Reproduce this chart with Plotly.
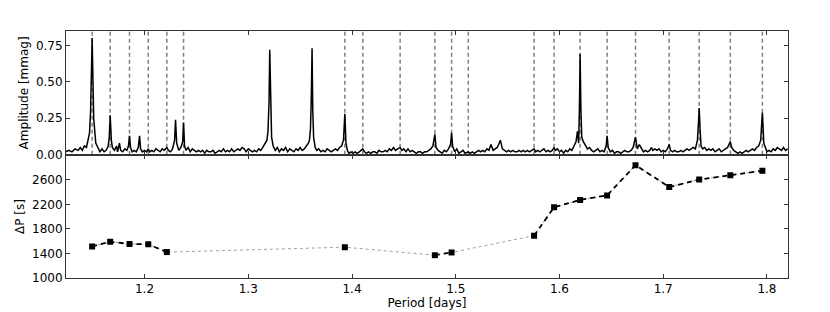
import plotly.graph_objects as go

# ---- Data ----
# Mode periods (dashed vertical lines in the upper panel), in days
mode_periods = [1.1495, 1.1669, 1.1855, 1.2036, 1.2215, 1.2376, 1.3931, 1.4104,
                1.4464, 1.4799, 1.4960, 1.5121, 1.5755, 1.5948, 1.6199, 1.6459,
                1.6733, 1.7058, 1.7347, 1.7647, 1.7956]

# Period spacing (lower panel)
dp_period = [1.1495, 1.1669, 1.1855, 1.2036, 1.2215, 1.3931, 1.4799, 1.4960,
             1.5755, 1.5948, 1.6199, 1.6459, 1.6733, 1.7058, 1.7347, 1.7647, 1.7956]
dp_value = [1515, 1590, 1555, 1548, 1422, 1502, 1372, 1416,
            1690, 2152, 2272, 2346, 2838, 2482, 2604, 2676, 2748]
dp_error = [22, 15, 15, 15, 15, 15, 15, 15, 30, 20, 15, 15, 15, 15, 15, 15, 30]
# consecutive-mode groups drawn with a dashed black line
dp_groups = [[0, 1, 2, 3, 4], [6, 7], [8, 9, 10, 11, 12, 13, 14, 15, 16]]

# Amplitude spectrum (period [d], amplitude [mmag])
spectrum_points = [
    (1.124, 0.02), (1.127, 0.03), (1.130, 0.02), (1.133, 0.04), (1.136, 0.03), (1.138, 0.05),
    (1.140, 0.03), (1.142, 0.06), (1.144, 0.05), (1.145, 0.09), (1.146, 0.12), (1.147, 0.15),
    (1.148, 0.30), (1.1495, 0.80), (1.151, 0.25), (1.152, 0.13), (1.153, 0.08), (1.155, 0.05),
    (1.157, 0.02), (1.159, 0.04), (1.161, 0.02), (1.163, 0.03), (1.165, 0.06), (1.166, 0.12),
    (1.1669, 0.27), (1.168, 0.10), (1.169, 0.05), (1.171, 0.03), (1.173, 0.06), (1.174, 0.02),
    (1.1758, 0.08), (1.177, 0.03), (1.179, 0.02), (1.181, 0.04), (1.183, 0.03), (1.1845, 0.06),
    (1.1855, 0.13), (1.1865, 0.05), (1.188, 0.02), (1.190, 0.03), (1.192, 0.02), (1.194, 0.05),
    (1.1952, 0.13), (1.1962, 0.04), (1.198, 0.02), (1.200, 0.03), (1.202, 0.02), (1.2036, 0.04),
    (1.205, 0.02), (1.207, 0.03), (1.209, 0.02), (1.211, 0.04), (1.213, 0.03), (1.215, 0.02),
    (1.217, 0.04), (1.219, 0.03), (1.2215, 0.05), (1.223, 0.03), (1.225, 0.02), (1.227, 0.04),
    (1.229, 0.10), (1.2299, 0.24), (1.231, 0.08), (1.233, 0.03), (1.235, 0.05), (1.2368, 0.09),
    (1.2376, 0.22), (1.2386, 0.06), (1.240, 0.03), (1.242, 0.05), (1.244, 0.02), (1.246, 0.04),
    (1.248, 0.03), (1.250, 0.02), (1.252, 0.03), (1.254, 0.02), (1.256, 0.03), (1.258, 0.01),
    (1.260, 0.03), (1.262, 0.02), (1.264, 0.02), (1.266, 0.03), (1.268, 0.01), (1.270, 0.02),
    (1.272, 0.03), (1.274, 0.02), (1.276, 0.04), (1.278, 0.02), (1.280, 0.03), (1.282, 0.02),
    (1.284, 0.04), (1.286, 0.02), (1.288, 0.03), (1.290, 0.04), (1.292, 0.03), (1.294, 0.05),
    (1.296, 0.04), (1.298, 0.02), (1.300, 0.04), (1.302, 0.03), (1.304, 0.02), (1.306, 0.03),
    (1.308, 0.02), (1.310, 0.04), (1.312, 0.03), (1.314, 0.05), (1.316, 0.08), (1.318, 0.10),
    (1.319, 0.16), (1.3200, 0.35), (1.3207, 0.72), (1.3215, 0.30), (1.3225, 0.12), (1.324, 0.06),
    (1.326, 0.03), (1.328, 0.05), (1.330, 0.02), (1.332, 0.04), (1.334, 0.03), (1.336, 0.05),
    (1.338, 0.02), (1.340, 0.04), (1.342, 0.03), (1.344, 0.02), (1.346, 0.04), (1.348, 0.03),
    (1.350, 0.05), (1.352, 0.03), (1.354, 0.04), (1.356, 0.06), (1.358, 0.08), (1.359, 0.10),
    (1.360, 0.18), (1.3608, 0.40), (1.3615, 0.73), (1.3622, 0.30), (1.363, 0.12), (1.3645, 0.05),
    (1.366, 0.03), (1.368, 0.04), (1.370, 0.02), (1.372, 0.03), (1.374, 0.02), (1.376, 0.04),
    (1.378, 0.03), (1.380, 0.02), (1.382, 0.03), (1.384, 0.04), (1.386, 0.03), (1.388, 0.05),
    (1.390, 0.06), (1.3918, 0.10), (1.3931, 0.28), (1.3942, 0.08), (1.3955, 0.03), (1.397, 0.01),
    (1.399, 0.02), (1.401, 0.01), (1.403, 0.02), (1.405, 0.01), (1.407, 0.02), (1.409, 0.03),
    (1.4104, 0.04), (1.412, 0.02), (1.414, 0.01), (1.416, 0.02), (1.418, 0.01), (1.420, 0.02),
    (1.422, 0.02), (1.424, 0.01), (1.426, 0.03), (1.428, 0.02), (1.430, 0.02), (1.432, 0.03),
    (1.434, 0.02), (1.436, 0.04), (1.438, 0.03), (1.440, 0.05), (1.442, 0.03), (1.444, 0.04),
    (1.4464, 0.05), (1.448, 0.03), (1.450, 0.04), (1.452, 0.02), (1.454, 0.04), (1.456, 0.02),
    (1.458, 0.03), (1.460, 0.02), (1.462, 0.01), (1.464, 0.02), (1.466, 0.02), (1.468, 0.01),
    (1.470, 0.02), (1.472, 0.02), (1.474, 0.03), (1.476, 0.04), (1.478, 0.06), (1.4799, 0.14),
    (1.481, 0.05), (1.483, 0.03), (1.485, 0.02), (1.487, 0.01), (1.489, 0.03), (1.491, 0.02),
    (1.493, 0.04), (1.495, 0.07), (1.4960, 0.15), (1.497, 0.06), (1.499, 0.02), (1.501, 0.04),
    (1.503, 0.01), (1.505, 0.02), (1.507, 0.03), (1.509, 0.01), (1.511, 0.02), (1.5121, 0.02),
    (1.514, 0.01), (1.516, 0.02), (1.518, 0.01), (1.520, 0.02), (1.522, 0.03), (1.524, 0.02),
    (1.526, 0.03), (1.528, 0.02), (1.530, 0.04), (1.532, 0.03), (1.534, 0.07), (1.536, 0.03),
    (1.538, 0.04), (1.540, 0.05), (1.542, 0.08), (1.543, 0.10), (1.545, 0.04), (1.547, 0.03),
    (1.549, 0.02), (1.551, 0.03), (1.553, 0.02), (1.555, 0.03), (1.557, 0.02), (1.559, 0.02),
    (1.561, 0.03), (1.563, 0.02), (1.565, 0.03), (1.567, 0.02), (1.569, 0.03), (1.571, 0.02),
    (1.573, 0.03), (1.5755, 0.04), (1.577, 0.02), (1.579, 0.03), (1.581, 0.02), (1.583, 0.03),
    (1.585, 0.04), (1.587, 0.02), (1.589, 0.03), (1.591, 0.02), (1.593, 0.03), (1.5948, 0.05),
    (1.596, 0.03), (1.598, 0.04), (1.600, 0.02), (1.602, 0.03), (1.604, 0.01), (1.606, 0.03),
    (1.608, 0.02), (1.610, 0.04), (1.612, 0.03), (1.614, 0.06), (1.616, 0.09), (1.6173, 0.16),
    (1.6185, 0.08), (1.6193, 0.35), (1.6199, 0.69), (1.6207, 0.30), (1.6215, 0.12), (1.623, 0.09),
    (1.625, 0.06), (1.627, 0.04), (1.629, 0.05), (1.631, 0.03), (1.633, 0.02), (1.635, 0.03),
    (1.637, 0.04), (1.639, 0.02), (1.641, 0.03), (1.643, 0.02), (1.645, 0.06), (1.6459, 0.13),
    (1.647, 0.05), (1.649, 0.02), (1.651, 0.03), (1.653, 0.01), (1.655, 0.02), (1.657, 0.02),
    (1.659, 0.01), (1.661, 0.02), (1.663, 0.03), (1.665, 0.02), (1.667, 0.02), (1.669, 0.03),
    (1.671, 0.05), (1.6733, 0.12), (1.675, 0.04), (1.677, 0.07), (1.679, 0.04), (1.681, 0.02),
    (1.683, 0.03), (1.685, 0.02), (1.687, 0.03), (1.6887, 0.05), (1.690, 0.03), (1.692, 0.04),
    (1.694, 0.03), (1.696, 0.04), (1.698, 0.02), (1.700, 0.03), (1.702, 0.02), (1.704, 0.04),
    (1.7058, 0.07), (1.707, 0.03), (1.709, 0.02), (1.711, 0.03), (1.713, 0.02), (1.715, 0.02),
    (1.717, 0.03), (1.719, 0.02), (1.721, 0.03), (1.723, 0.04), (1.725, 0.03), (1.727, 0.04),
    (1.729, 0.05), (1.731, 0.04), (1.733, 0.10), (1.734, 0.22), (1.7347, 0.32), (1.7355, 0.18),
    (1.7365, 0.06), (1.738, 0.04), (1.740, 0.05), (1.742, 0.03), (1.744, 0.04), (1.746, 0.03),
    (1.748, 0.04), (1.750, 0.02), (1.752, 0.03), (1.754, 0.04), (1.756, 0.02), (1.758, 0.03),
    (1.760, 0.04), (1.762, 0.05), (1.7647, 0.09), (1.766, 0.05), (1.768, 0.03), (1.770, 0.02),
    (1.772, 0.01), (1.774, 0.02), (1.776, 0.01), (1.778, 0.02), (1.780, 0.03), (1.782, 0.02),
    (1.784, 0.03), (1.786, 0.04), (1.788, 0.03), (1.790, 0.05), (1.792, 0.06), (1.794, 0.10),
    (1.7956, 0.29), (1.797, 0.08), (1.798, 0.06), (1.800, 0.02), (1.802, 0.03), (1.804, 0.02),
    (1.806, 0.04), (1.808, 0.03), (1.810, 0.05), (1.812, 0.04), (1.814, 0.03), (1.816, 0.05),
    (1.818, 0.03), (1.820, 0.04),
]
spec_period = [p for p, a in spectrum_points]
spec_amp = [a for p, a in spectrum_points]

amp_ticks = [0.0, 0.25, 0.50, 0.75]
amp_ticklabels = ["0.00", "0.25", "0.50", "0.75"]
dp_ticks = [1000, 1400, 1800, 2200, 2600]
period_ticks = [1.2, 1.3, 1.4, 1.5, 1.6, 1.7, 1.8]
period_ticklabels = ["1.2", "1.3", "1.4", "1.5", "1.6", "1.7", "1.8"]

X_RANGE = [1.1243, 1.8203]
AMP_RANGE = [0, 0.848]
DP_RANGE = [1000, 3000]

fig = go.Figure()

# dashed vertical lines at mode periods
vx, vy = [], []
for p in mode_periods:
    vx += [p, p, None]
    vy += [AMP_RANGE[0], AMP_RANGE[1], None]
fig.add_trace(go.Scatter(x=vx, y=vy, mode="lines", xaxis="x", yaxis="y",
                         line=dict(color="#7f7f7f", width=1.5, dash="4px,3px"),
                         hoverinfo="skip", showlegend=False))

# amplitude spectrum
fig.add_trace(go.Scatter(x=spec_period, y=spec_amp, mode="lines", xaxis="x", yaxis="y",
                         line=dict(color="black", width=1.5), showlegend=False))

# dotted grey line through all period-spacing points
fig.add_trace(go.Scatter(x=dp_period, y=dp_value, mode="lines", xaxis="x2", yaxis="y2",
                         line=dict(color="#a0a0a0", width=1, dash="dot"),
                         showlegend=False))

# dashed black segments for consecutive modes
gx, gy = [], []
for g in dp_groups:
    gx += [dp_period[i] for i in g] + [None]
    gy += [dp_value[i] for i in g] + [None]
fig.add_trace(go.Scatter(x=gx, y=gy, mode="lines", xaxis="x2", yaxis="y2",
                         line=dict(color="black", width=1.8, dash="5px,4px"),
                         showlegend=False))

# markers with error bars
fig.add_trace(go.Scatter(x=dp_period, y=dp_value, mode="markers", xaxis="x2", yaxis="y2",
                         marker=dict(symbol="square", size=6, color="black"),
                         error_y=dict(type="data", array=dp_error, color="black",
                                      thickness=1.2, width=2),
                         showlegend=False))

FS = 12
axis_common = dict(showline=True, linecolor="#333333", linewidth=1, mirror="ticks",
                   ticks="inside", ticklen=4, tickcolor="#333333", tickwidth=1,
                   showgrid=False, zeroline=False, automargin=False,
                   tickfont=dict(family="DejaVu Sans", size=FS, color="black"))

# the page body adds an 8 px offset, so the figure is sized to the remaining window
fig.update_layout(
    width=822, height=304,
    paper_bgcolor="white", plot_bgcolor="white",
    margin=dict(l=58, r=42, t=23, b=34),
    font=dict(family="DejaVu Sans", size=FS, color="black"),
    xaxis=dict(domain=[0, 1], anchor="y", range=X_RANGE, tickvals=period_ticks,
               showticklabels=False, matches="x2", **axis_common),
    yaxis=dict(domain=[0.499, 1], anchor="x", range=AMP_RANGE, tickvals=amp_ticks,
               ticktext=amp_ticklabels,
               title=dict(text="Amplitude [mmag]", standoff=4,
                          font=dict(family="DejaVu Sans", size=FS)),
               **axis_common),
    xaxis2=dict(domain=[0, 1], anchor="y2", range=X_RANGE, tickvals=period_ticks,
                ticktext=period_ticklabels,
                title=dict(text="Period [days]", standoff=2,
                           font=dict(family="DejaVu Sans", size=FS)),
                **axis_common),
    yaxis2=dict(domain=[0, 0.497], anchor="x2", range=DP_RANGE, tickvals=dp_ticks,
                title=dict(text="ΔP [s]", standoff=4,
                           font=dict(family="DejaVu Sans", size=FS)),
                **axis_common),
)

fig.write_html("out.html")
